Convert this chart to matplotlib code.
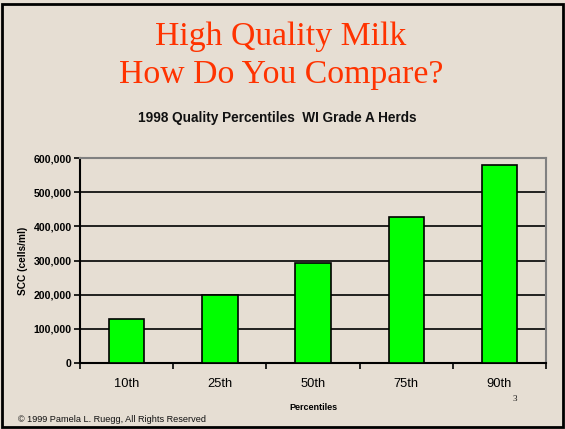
import matplotlib.pyplot as plt
from matplotlib.patches import Rectangle
from matplotlib.ticker import FuncFormatter

categories = ['10th', '25th', '50th', '75th', '90th']
scc = [128000, 198000, 292000, 428000, 580000]
yticks = [0, 100000, 200000, 300000, 400000, 500000, 600000]

bg = '#E6DED3'
fig = plt.figure(figsize=(5.65, 4.29), dpi=100, facecolor=bg)
ax = fig.add_axes([0.1416, 0.1538, 0.8248, 0.4779])
ax.set_facecolor(bg)

x = list(range(len(categories)))
ax.bar(x, scc, width=0.38, color='#00FF00', edgecolor='black', linewidth=1.2, zorder=3)

ax.set_xlim(-0.5, len(categories) - 0.5)
ax.set_ylim(0, 600000)
ax.set_yticks(yticks)
ax.yaxis.set_major_formatter(FuncFormatter(lambda v, p: f'{int(v):,}'))
ax.grid(axis='y', color='black', linewidth=1.2, zorder=1)
ax.set_axisbelow(True)

ax.set_xticks(x)
ax.set_xticklabels(categories, fontsize=9.3, family='Liberation Sans')
ax.set_xticks([i - 0.5 for i in range(len(categories) + 1)], minor=True)
ax.tick_params(axis='x', which='major', length=0, pad=11)
ax.tick_params(axis='x', which='minor', length=4, width=1.2, direction='out')
ax.tick_params(axis='y', length=4, width=1.2, labelsize=7.6, pad=2)
for lab in ax.get_yticklabels():
    lab.set_fontweight('bold')
    lab.set_family('Liberation Sans')

for s in ['left', 'bottom']:
    ax.spines[s].set_color('black')
    ax.spines[s].set_linewidth(1.5)
for s in ['top', 'right']:
    ax.spines[s].set_color('#808080')
    ax.spines[s].set_linewidth(1.5)

ax.set_ylabel('SCC (cells/ml)', fontsize=7.3, fontweight='bold', family='Liberation Sans', labelpad=4)
ax.set_xlabel('Percentiles', fontsize=6.5, fontweight='bold', family='Liberation Sans', labelpad=9)

fig.text(0.497, 1 - 37 / 429, 'High Quality Milk', ha='center', va='center',
         fontsize=24.3, color='#FF3300', family='Liberation Serif')
fig.text(0.497, 1 - 75 / 429, 'How Do You Compare?', ha='center', va='center',
         fontsize=24.3, color='#FF3300', family='Liberation Serif')
fig.text(277 / 565, 1 - 118 / 429, '1998 Quality Percentiles  WI Grade A Herds', ha='center', va='center',
         fontsize=9.8, fontweight='bold', color='#111111', family='Liberation Sans')
fig.text(18 / 565, 1 - 420 / 429, '\u00a9 1999 Pamela L. Ruegg, All Rights Reserved', ha='left', va='center',
         fontsize=6.6, color='#111111', family='Liberation Sans')
fig.text(515 / 565, 1 - 399 / 429, '3', ha='center', va='center',
         fontsize=6.5, color='#111111', family='Liberation Serif')

fig.patches.append(Rectangle((0.003, 0.004), 0.994, 0.987, transform=fig.transFigure,
                             fill=False, edgecolor='black', linewidth=2))

fig.savefig('out.png', dpi=100, facecolor=bg)
